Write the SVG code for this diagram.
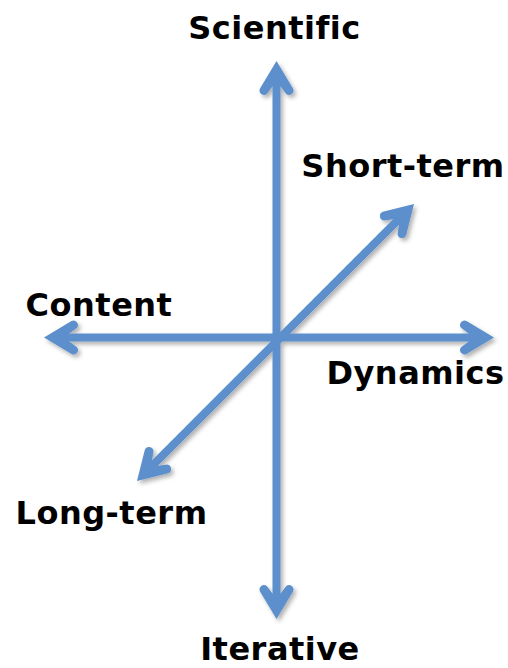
<svg xmlns="http://www.w3.org/2000/svg" width="508" height="668" viewBox="0 0 508 668">
  <style>
    .axis { stroke: #5b8fcb; stroke-width: 8; fill: none; marker-start: url(#head); marker-end: url(#head); }
    .label { font-family: "DejaVu Sans", Verdana, sans-serif; font-weight: bold; font-size: 32px; letter-spacing: 0.5px; fill: #000; text-anchor: middle; }
  </style>
  <defs>
    <!-- rounded-wing arrowhead; the line ends at the notch, tip sits 20px further on -->
    <marker id="head" markerUnits="userSpaceOnUse" orient="auto-start-reverse" overflow="visible" refX="0" refY="0" markerWidth="1" markerHeight="1">
      <path d="M20,0 L-7.5,16.5 A4.5,4.5 0 0 1 -13,9.7 L0,0 L-13,-9.7 A4.5,4.5 0 0 1 -7.5,-16.5 Z" fill="#5b8fcb"/>
    </marker>
    <filter id="shadow" x="-10%" y="-10%" width="120%" height="120%">
      <feDropShadow dx="2.5" dy="3" stdDeviation="2" flood-color="#000" flood-opacity="0.3"/>
    </filter>
  </defs>

  <g id="connectors" filter="url(#shadow)">
    <line class="axis" x1="276.5" y1="81" x2="276.5" y2="599"/>
    <line class="axis" x1="64" y1="337.5" x2="474" y2="337.5"/>
    <line class="axis" x1="151.14" y1="466.86" x2="399.86" y2="218.14"/>
  </g>

  <g id="scientific"><text class="label" x="274.5" y="38.5">Scientific</text></g>
  <g id="short-term"><text class="label" x="403" y="177">Short-term</text></g>
  <g id="content"><text class="label" x="99" y="316">Content</text></g>
  <g id="dynamics"><text class="label" x="415.5" y="384">Dynamics</text></g>
  <g id="long-term"><text class="label" x="111.5" y="524">Long-term</text></g>
  <g id="iterative"><text class="label" x="280" y="660">Iterative</text></g>
</svg>
